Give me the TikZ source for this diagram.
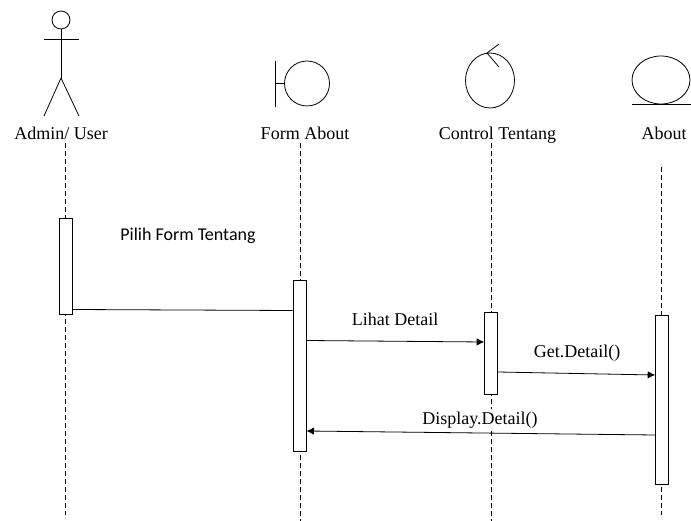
\documentclass[tikz,border=0pt]{standalone}
\usepackage{fontspec}
\setmainfont{Liberation Serif}
\newfontfamily\bodyfont{Carlito}
\usetikzlibrary{shapes.geometric,arrows.meta}
\tikzset{
  lifebox/.style={draw,fill=white,inner sep=0pt,outer sep=0pt,minimum width=13.5pt},
  lifeline/.style={dash pattern=on 5pt off 3pt},
  icon/.style={draw,inner sep=0pt,outer sep=0pt},
  label/.style={inner sep=0pt,anchor=base,font=\fontsize{18}{20}\selectfont},
  msg/.style={-{Latex[length=7.5pt,width=7.5pt]}},
}
\begin{document}
\begin{tikzpicture}[x=1pt,y=-1pt,line width=.8pt]
    \useasboundingbox (0,0) rectangle (691,521);
    % actor
    \node (A_head) [icon,circle,minimum size=18pt] at (61,20) {};
    \coordinate (A_hip) at (61,78);
    \coordinate (A_armL) at (44,39);
    \coordinate (A_armR) at (79,39);
    \coordinate (A_legL) at (44,116);
    \coordinate (A_legR) at (79,116);
    \path (A_head.south) edge (A_hip);
    \path (A_armL) edge (A_armR);
    \path (A_hip) edge (A_legL);
    \path (A_hip) edge (A_legR);
    % boundary
    \node (B_circ) [icon,circle,minimum size=45pt] at (307,83.5) {};
    \coordinate (B_top) at (275,61);
    \coordinate (B_bot) at (275,107);
    \coordinate (B_mid) at (275,83.5);
    \path (B_top) edge (B_bot);
    \path (B_mid) edge (B_circ.west);
    % control
    \node (C_circ) [icon,ellipse,minimum width=49pt,minimum height=55pt] at (490,80.5) {};
    \coordinate (C_tip) at (487,53);
    \coordinate (C_up) at (499,44);
    \coordinate (C_down) at (499,67);
    \path (C_tip) edge (C_up);
    \path (C_tip) edge (C_down);
    % entity
    \node (E_circ) [icon,ellipse,minimum width=58pt,minimum height=48pt] at (661,80) {};
    \coordinate (E_left) at (632,104);
    \coordinate (E_right) at (691,104);
    \path (E_left) edge (E_right);
    % names
    \node (L_admin) [label] at (61,140) {Admin/ User};
    \node (L_form) [label] at (305,140) {Form About};
    \node (L_ctrl) [label] at (497.5,140) {Control Tentang};
    \node (L_about) [label] at (664,140) {About};
    % lifelines
    \coordinate (T0) at (65.5,143);
    \coordinate (T1) at (300,143);
    \coordinate (T2) at (491.3,143);
    \coordinate (T3) at (661.7,167);
    \coordinate (D0) at (65.5,515);
    \coordinate (D1) at (300,521);
    \coordinate (D2) at (491.3,521);
    \coordinate (D3) at (661.7,515);
    \draw [lifeline] (T0) -- (D0);
    \draw [lifeline] (T1) -- (D1);
    \draw [lifeline] (T2) -- (D2);
    \draw [lifeline] (T3) -- (D3);
    % boxes
    \node (S0) [lifebox,minimum height=96pt] at (65.75,266) {};
    \node (S1) [lifebox,minimum height=171pt] at (299.8,366) {};
    \node (S2) [lifebox,minimum height=82pt] at (491,353) {};
    \node (S3) [lifebox,minimum height=169pt] at (662,399.5) {};
    % messages
    \node (T_pilih) [inner sep=0pt,anchor=base,font=\bodyfont\fontsize{18}{20}\selectfont] at (188,240.5) {Pilih Form Tentang};
    \node (T_lihat) [label] at (395,326) {Lihat Detail};
    \node (T_get) [label] at (577,358) {Get.Detail()};
    \node (T_disp) [label,fill=white,inner ysep=3pt] at (480,424) {Display.Detail()};
    \coordinate (M0a) at (72.5,309.5);
    \coordinate (M0b) at (292.5,310.5);
    \coordinate (M1a) at (306.5,340.5);
    \coordinate (M1b) at (484.2,342);
    \coordinate (M2a) at (497.8,372);
    \coordinate (M2b) at (655.2,375);
    \coordinate (M3a) at (655.2,435);
    \coordinate (M3b) at (306.5,431);
    \path (M0a) edge (M0b);
    \path (M1a) edge [msg] (M1b);
    \path (M2a) edge [msg] (M2b);
    \path (M3a) edge [msg] (M3b);
\end{tikzpicture}
\end{document}
